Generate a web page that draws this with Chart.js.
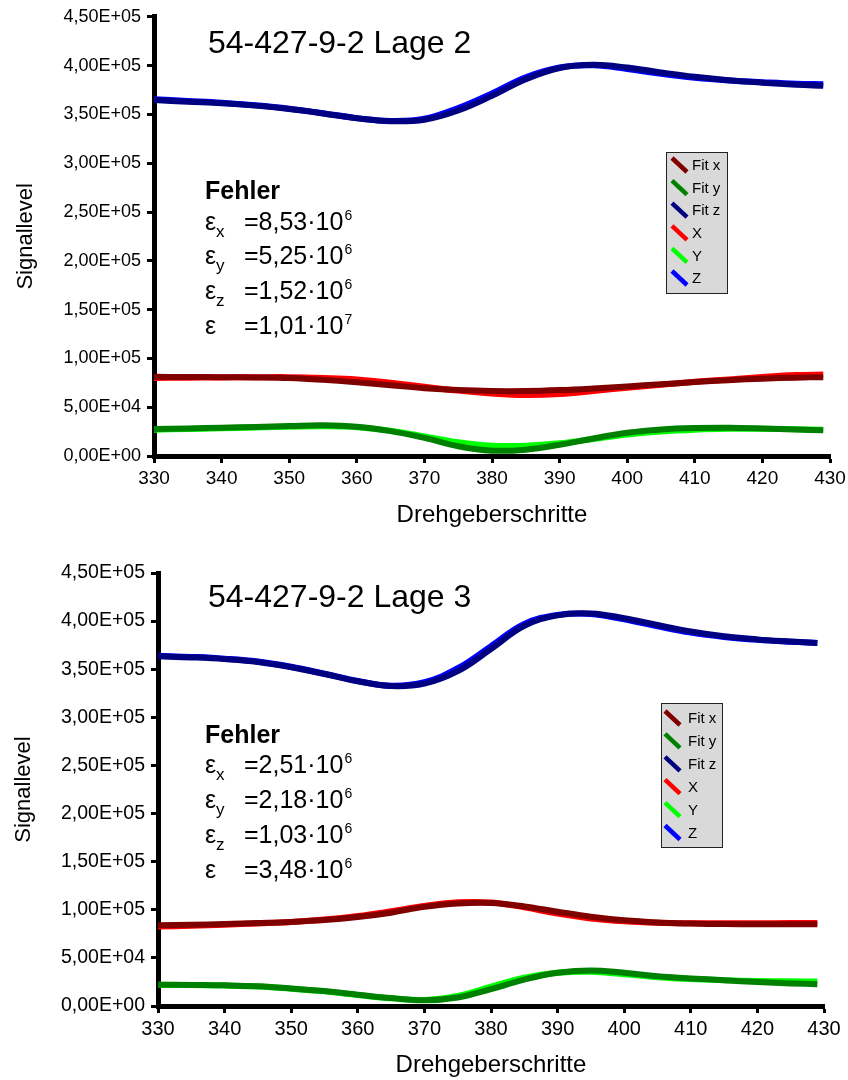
<!DOCTYPE html>
<html>
<head>
<meta charset="utf-8">
<script src="https://cdn.jsdelivr.net/npm/chart.js@4.4.0/dist/chart.umd.min.js"></script>
<style>
body { margin: 0; background: #fff; }
.box { position: absolute; left: 0; width: 848px; height: 540px; }
#b1 { top: 0; }
#b2 { top: 540px; }
</style>
</head>
<body>
<div class="box" id="b1"><canvas id="c1"></canvas></div>
<div class="box" id="b2"><canvas id="c2"></canvas></div>
<script>
// Drehgeberschritte (x values of the sampled curves)
const steps = [330,335,340,345,350,355,360,365,370,375,380,385,390,395,400,405,410,415,420,425,429];

const seriesLabels = ['Fit x','Fit y','Fit z','X','Y','Z'];
const seriesColors = ['#800000','#008000','#000080','#ff0000','#00ff00','#0000ff'];
const yTickLabels = ['0,00E+00','5,00E+04','1,00E+05','1,50E+05','2,00E+05','2,50E+05','3,00E+05','3,50E+05','4,00E+05','4,50E+05'];

// Lage 2
const lage2FitX = [81100,81000,80800,80500,79800,78000,75500,72500,69500,67500,66500,66500,67500,69200,71300,73500,75700,77700,79200,80300,80800];
const lage2FitY = [27600,28300,29000,29800,30700,31500,30000,25500,18500,10000,5500,6500,11500,18000,23800,27200,28700,29000,28300,27200,26300];
const lage2FitZ = [364700,363000,361500,359000,355500,351000,346000,343000,344500,354000,369000,386000,397500,400800,398000,393000,388500,385000,382500,380500,379300];
const lage2X = [80000,80300,80500,80700,80800,80000,78500,75000,71000,67000,64000,62500,63500,66500,70000,73000,76000,78500,81000,83000,83500];
const lage2Y = [27000,27700,28400,29200,30000,30500,29500,26000,20000,14000,10500,10500,13000,17500,22000,25200,27000,27800,27800,27300,27000];
const lage2Z = [365500,363800,362000,359300,355800,351200,346200,343200,345500,356500,371500,388000,398000,400300,396500,391500,387500,384800,383000,381500,381000];
const lage2ErrSubs = ['x','y','z',''];
const lage2ErrVals = ['8,53','5,25','1,52','1,01'];
const lage2ErrExps = ['6','6','6','7'];

// Lage 3
const lage3FitX = [83900,84500,85200,86200,87400,89300,92500,97000,103000,106500,107000,103500,98000,92800,89000,86800,85700,85100,84900,84900,84900];
const lage3FitY = [22200,21900,21500,20500,18300,15500,11800,8200,5900,8800,17500,27500,34500,37000,34500,31000,28700,26800,24900,23500,22600];
const lage3FitZ = [363500,362300,360500,357500,352000,345000,337500,332500,335000,348000,371000,395000,406000,408000,403000,396000,389300,384300,381000,378800,377300];
const lage3X = [82500,83500,84500,85800,87300,89800,93500,98500,104000,107800,107500,102500,96000,91000,88000,86500,86000,86000,86000,86200,86300];
const lage3Y = [22000,21700,21200,20200,18000,15200,11500,8000,6200,10500,20000,29500,34500,35500,33000,30000,28000,26800,26000,25600,25400];
const lage3Z = [364000,362800,361000,358000,352500,345300,337800,332800,336500,351000,374000,397000,406500,407500,401800,394500,388000,383500,380500,378500,377300];
const lage3ErrSubs = ['x','y','z',''];
const lage3ErrVals = ['2,51','2,18','1,03','3,48'];
const lage3ErrExps = ['6','6','6','6'];

const FONT = "'Liberation Sans', Arial, sans-serif";

function toPoints(vals) {
    return vals.map((v, i) => ({x: steps[i], y: v}));
}

// title, error block and legend box drawn on top of the chart
const notes = {
    id: 'notes',
    afterDraw(chart, args, o) {
        const ctx = chart.ctx;
        ctx.save();
        ctx.fillStyle = '#000';
        ctx.textAlign = 'left';
        ctx.textBaseline = 'alphabetic';
        ctx.font = '32px ' + FONT;
        ctx.fillText(o.title, o.titleX, o.titleY);

        ctx.font = 'bold 25px ' + FONT;
        ctx.fillText('Fehler', o.errX, o.errY[0]);
        o.subs.forEach((sub, i) => {
            const y = o.errY[i + 1];
            ctx.font = '25px ' + FONT;
            ctx.fillText('ε', o.errX, y);
            if (sub) {
                ctx.font = '17px ' + FONT;
                ctx.fillText(sub, o.errX + 11, y + 7);
            }
            ctx.font = '25px ' + FONT;
            const s = '=' + o.vals[i] + '·10';
            ctx.fillText(s, o.errX + 39, y);
            const w = ctx.measureText(s).width;
            ctx.font = '14px ' + FONT;
            ctx.fillText(o.exps[i], o.errX + 39 + w + 1, y - 10);
        });

        const L = o.legend;
        ctx.fillStyle = '#d9d9d9';
        ctx.fillRect(L.x, L.y, L.w, L.h);
        ctx.strokeStyle = '#222';
        ctx.lineWidth = 1;
        ctx.strokeRect(L.x + 0.5, L.y + 0.5, L.w, L.h);
        ctx.textBaseline = 'middle';
        chart.data.datasets.forEach((ds, i) => {
            const cy = L.y + L.first + i * L.gap;
            ctx.strokeStyle = ds.borderColor;
            ctx.lineWidth = 4.5;
            ctx.lineCap = 'butt';
            ctx.beginPath();
            ctx.moveTo(L.x + L.sx, cy - 7);
            ctx.lineTo(L.x + L.sx + 15, cy + 7);
            ctx.stroke();
            ctx.fillStyle = '#000';
            ctx.font = '15px ' + FONT;
            ctx.fillText(ds.label, L.x + L.tx, cy + 1);
        });
        ctx.restore();
    }
};

function makeChart(id, series, g, note) {
    const datasets = series.map((vals, i) => ({
        label: seriesLabels[i],
        data: toPoints(vals),
        borderColor: seriesColors[i],
        backgroundColor: seriesColors[i],
        borderWidth: 6,
        pointRadius: 0,
        tension: 0.4,
        fill: false
    }));
    return new Chart(document.getElementById(id), {
        type: 'line',
        data: { datasets: datasets },
        options: {
            responsive: true,
            maintainAspectRatio: false,
            animation: false,
            layout: { padding: { left: 0, right: g.padRight, top: g.padTop, bottom: 0 } },
            plugins: {
                legend: { display: false },
                tooltip: { enabled: false },
                notes: note
            },
            scales: {
                x: {
                    type: 'linear',
                    min: 330, max: 430,
                    ticks: { stepSize: 10, autoSkip: false, maxRotation: 0, color: '#000', padding: 4,
                        font: { family: FONT, size: g.xTickSize } },
                    grid: { drawOnChartArea: false, drawTicks: true, tickLength: 7, tickWidth: 3, tickColor: '#000' },
                    border: { display: true, color: '#000', width: 5 },
                    title: { display: true, text: 'Drehgeberschritte', color: '#000',
                        font: { family: FONT, size: 24 }, padding: { top: 0, bottom: g.xTitlePad } },
                    afterFit(s) { s.height = g.xHeight; s.paddingLeft = 0; s.paddingRight = 0; }
                },
                y: {
                    min: 0, max: 450000,
                    ticks: { stepSize: 50000, color: '#000', padding: 6,
                        font: { family: FONT, size: g.yTickSize },
                        callback: (v, i) => yTickLabels[i] },
                    grid: { drawOnChartArea: false, drawTicks: true, tickLength: 7, tickWidth: 3, tickColor: '#000' },
                    border: { display: true, color: '#000', width: 5 },
                    title: { display: true, text: 'Signallevel', color: '#000',
                        font: { family: FONT, size: 22 }, padding: { top: g.yTitlePad, bottom: 0 } },
                    afterFit(s) { s.width = g.yWidth; }
                }
            }
        },
        plugins: [notes]
    });
}

makeChart('c1', [lage2FitX, lage2FitY, lage2FitZ, lage2X, lage2Y, lage2Z],
    { padRight: 18, padTop: 15, xHeight: 84, yWidth: 154, xTickSize: 19, yTickSize: 18, xTitlePad: 10.6, yTitlePad: 12.4 },
    { title: '54-427-9-2 Lage 2', titleX: 208, titleY: 53, errX: 205, errY: [199, 230, 264, 299, 334],
      subs: lage2ErrSubs, vals: lage2ErrVals, exps: lage2ErrExps,
      legend: { x: 666, y: 152, w: 61, h: 141, first: 13, gap: 22.6, sx: 6, tx: 26 } });

makeChart('c2', [lage3FitX, lage3FitY, lage3FitZ, lage3X, lage3Y, lage3Z],
    { padRight: 24, padTop: 33, xHeight: 74, yWidth: 158, xTickSize: 20, yTickSize: 19.5, xTitlePad: 0, yTitlePad: 10.4 },
    { title: '54-427-9-2 Lage 3', titleX: 208, titleY: 67, errX: 205, errY: [203, 233, 268, 303, 338],
      subs: lage3ErrSubs, vals: lage3ErrVals, exps: lage3ErrExps,
      legend: { x: 661, y: 163, w: 61, h: 144, first: 15, gap: 22.9, sx: 4, tx: 27 } });
</script>
</body>
</html>
